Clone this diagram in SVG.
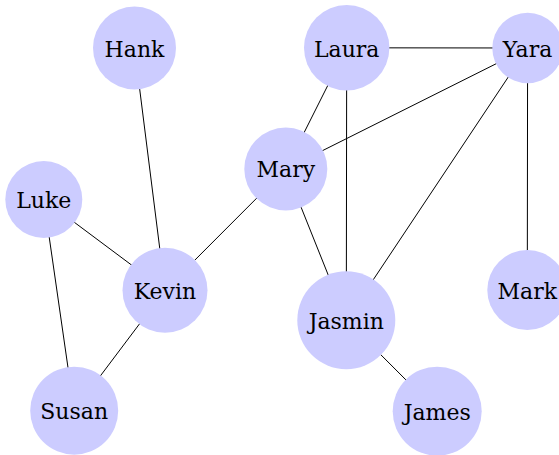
<svg xmlns="http://www.w3.org/2000/svg" width="559" height="455" viewBox="0 0 559 455">
<style>
.n circle{fill:#ccccff;stroke:none}
.n text{font-family:"DejaVu Serif",serif;font-size:22px;fill:#000;text-anchor:middle}
#edges line{stroke:#000;stroke-width:1}
</style>
<rect width="559" height="455" fill="#fff"/>
<g id="edges">
<line x1="134.5" y1="48" x2="165" y2="290"/>
<line x1="43.8" y1="199.5" x2="165" y2="290"/>
<line x1="43.8" y1="199.5" x2="74.2" y2="410.7"/>
<line x1="165" y1="290" x2="74.2" y2="410.7"/>
<line x1="165" y1="290" x2="285.8" y2="169"/>
<line x1="285.8" y1="169" x2="346.7" y2="47.8"/>
<line x1="285.8" y1="169" x2="527.6" y2="48"/>
<line x1="285.8" y1="169" x2="346.3" y2="320.2"/>
<line x1="346.7" y1="47.8" x2="527.6" y2="48"/>
<line x1="346.7" y1="47.8" x2="346.3" y2="320.2"/>
<line x1="527.6" y1="48" x2="346.3" y2="320.2"/>
<line x1="527.6" y1="48" x2="527.3" y2="290"/>
<line x1="346.3" y1="320.2" x2="437.2" y2="411.2"/>
</g>
<g id="hank" class="n"><circle cx="134.5" cy="48" r="41.5"/><text x="134.5" y="57">Hank</text></g>
<g id="laura" class="n"><circle cx="346.7" cy="47.8" r="42.7"/><text x="346.7" y="57">Laura</text></g>
<g id="yara" class="n"><circle cx="527.6" cy="48" r="35.3"/><text x="527.6" y="57">Yara</text></g>
<g id="mary" class="n"><circle cx="285.8" cy="169" r="41.5"/><text x="285.8" y="177">Mary</text></g>
<g id="luke" class="n"><circle cx="43.8" cy="199.5" r="38.5"/><text x="43.8" y="208">Luke</text></g>
<g id="kevin" class="n"><circle cx="165" cy="290.2" r="42.5"/><text x="165" y="299">Kevin</text></g>
<g id="jasmin" class="n"><circle cx="346.3" cy="320.2" r="49"/><text x="346.3" y="329">Jasmin</text></g>
<g id="mark" class="n"><circle cx="527.3" cy="290" r="40"/><text x="527.3" y="299">Mark</text></g>
<g id="susan" class="n"><circle cx="74.2" cy="410.7" r="44"/><text x="74.2" y="419">Susan</text></g>
<g id="james" class="n"><circle cx="437.2" cy="411.2" r="44.5"/><text x="437.2" y="420">James</text></g>
</svg>
